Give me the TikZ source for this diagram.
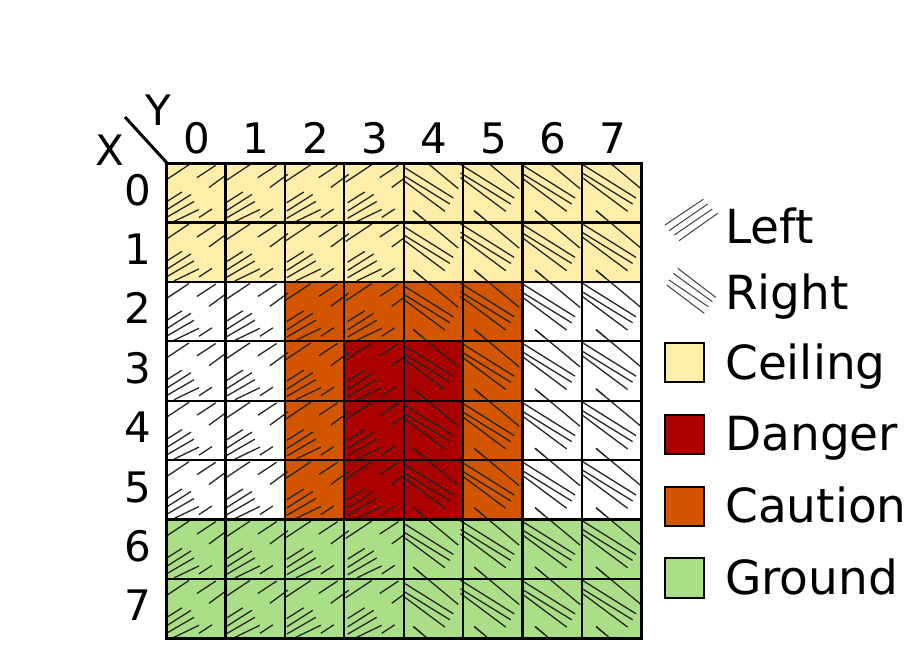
\documentclass[tikz,border=0pt]{standalone}
\usepackage{fontspec}
\setmainfont{DejaVu Sans}
\definecolor{ceil}{HTML}{FFEEAA}
\definecolor{danger}{HTML}{AA0000}
\definecolor{caution}{HTML}{D45500}
\definecolor{ground}{HTML}{AADE87}
\begin{document}
\begin{tikzpicture}[x=1pt,y=-1pt,
  hatchline/.style={line width=1.3pt,black!85},
  iconline/.style={line width=1pt,black!75},
  gridline/.style={line width=2.2pt,black},
  lbl/.style={font=\fontsize{42}{42}\selectfont,inner sep=0pt},
  leg/.style={font=\fontsize{47}{47}\selectfont,inner sep=0pt,anchor=base west},
  legbox/.style={draw=black,line width=2.5pt}]
\useasboundingbox (0,0) rectangle (920,656);
\def\c{59.4}
\def\ox{166}
\def\oy{163}
% fills
\fill[ceil] (\ox,\oy) rectangle ++(8*\c,2*\c);
\fill[white] (\ox,\oy+2*\c) rectangle ++(8*\c,4*\c);
\fill[caution] (\ox+2*\c,\oy+2*\c) rectangle ++(4*\c,4*\c);
\fill[danger] (\ox+3*\c,\oy+3*\c) rectangle ++(2*\c,3*\c);
\fill[ground] (\ox,\oy+6*\c) rectangle ++(8*\c,2*\c);
% left hatch (per-cell texture, clipped to columns 0-3)
\begin{scope}
  \clip (\ox,\oy) rectangle ++(4*\c,8*\c);
  \foreach \r in {-1,...,8}{
    \foreach \q in {0,...,3}{
      \begin{scope}[shift={(\ox+\q*\c+\q*1.5,\oy+\r*\c)}]
        \foreach \xa/\ya/\xb/\yb in {-3/19/23/1.7, 31/14.6/49.7/2.3, 43/24.5/61/11.3,
            -1/39.7/16/29, -1/48/25/31.5, -1/55.3/28/38.5, 8/58.5/33/46.5, 33/54.5/46/46}{
          \draw[hatchline] (\xa,\ya) -- (\xb,\yb);
        }
      \end{scope}
    }
  }
\end{scope}
% right hatch (per-cell texture, clipped to columns 4-7)
\begin{scope}
  \clip (\ox+4*\c,\oy) rectangle ++(4*\c,8*\c);
  \foreach \r in {-1,...,8}{
    \foreach \q in {4,...,7}{
      \begin{scope}[shift={(\ox+\q*\c+\q*1.5-9,\oy+\r*\c)}]
        \foreach \xa/\ya/\xb/\yb in {12.7/-11.7/57.7/25.7, 12.7/47.7/22/55.5,
            -1/1.4/52.7/35, -1/10/49.3/41, -1/14.6/44.3/48.3}{
          \draw[hatchline] (\xa,\ya) -- (\xb,\yb);
        }
      \end{scope}
    }
  }
\end{scope}
% grid
\foreach \i in {1,...,7}{
  \draw[gridline] (\ox+\i*\c,\oy) -- ++(0,8*\c);
  \draw[gridline] (\ox,\oy+\i*\c) -- ++(8*\c,0);
}
\draw[line width=3pt] (\ox,\oy) rectangle ++(8*\c,8*\c);
% labels
\foreach \i in {0,...,7}{
  \node[lbl,anchor=base] (col\i) at (\ox+\i*\c+0.5*\c+1,153) {\i};
  \node[lbl,anchor=base east] (row\i) at (151,\oy+\i*\c+42) {\i};
}
\coordinate (dA) at (125,117);
\coordinate (dB) at (\ox+1,\oy);
\draw[line width=3pt] (dA) -- (dB);
\node[lbl,anchor=center] (X) at (110,150) {X};
\node[lbl,anchor=center] (Y) at (158,110) {Y};
% legend icons
\foreach \xa/\ya/\xb/\yb in {665/225/703.3/199.3, 669/230.7/707.7/204, 674.3/235/712.3/209, 679/240.7/717.7/213.3}{
  \draw[iconline] (\xa,\ya) -- (\xb,\yb);
}
\foreach \xa/\ya/\xb/\yb in {677.7/268.3/715.7/297.3, 673.3/273.3/712.3/301.7, 669/280/708.3/306.7, 666.7/285/704.3/313.3}{
  \draw[iconline] (\xa,\ya) -- (\xb,\yb);
}
\node[leg] (lLeft) at (725,243) {Left};
\node[leg] (lRight) at (725,309) {Right};
\draw[legbox,fill=ceil] (665,343) rectangle (704,382);
\node[leg] (lCeil) at (725,379) {Ceiling};
\draw[legbox,fill=danger] (665,415) rectangle (704,454);
\node[leg] (lDanger) at (725,450) {Danger};
\draw[legbox,fill=caution] (665,487) rectangle (704,526);
\node[leg] (lCaution) at (725,522) {Caution};
\draw[legbox,fill=ground] (665,558) rectangle (704,598);
\node[leg] (lGround) at (725,594) {Ground};
\end{tikzpicture}
\end{document}
